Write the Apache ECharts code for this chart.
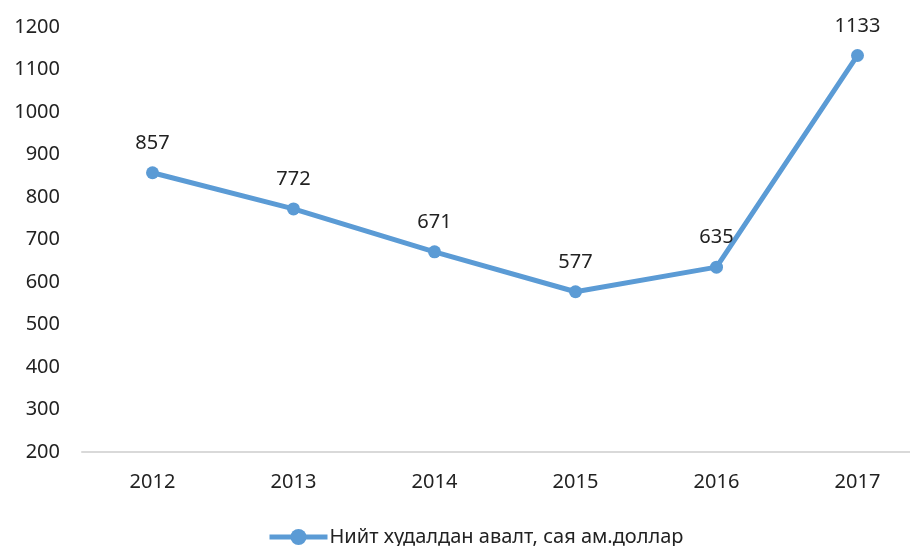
<!DOCTYPE html>
<html><head><meta charset="utf-8">
<script src="https://cdn.jsdelivr.net/npm/echarts@6/dist/echarts.min.js"></script>
<style>html,body{margin:0;padding:0;background:#fff}#c{width:910px;height:546px}</style>
</head><body><div id="c"></div>
<script>
const categories = ['2012','2013','2014','2015','2016','2017'];
const values = [857, 772, 671, 577, 635, 1133];
const seriesName = 'Нийт худалдан авалт, сая ам.доллар';
const yMin = 200, yMax = 1200, yStep = 100;

const chart = echarts.init(document.getElementById('c'));
const font = '"Noto Sans", sans-serif';
chart.setOption({
  animation: false,
  textStyle: { fontFamily: font },
  grid: { left: 82, top: 27, width: 846, height: 425, containLabel: false, outerBoundsMode: 'none' },
  xAxis: {
    type: 'category', data: categories, boundaryGap: true,
    axisLine: { lineStyle: { color: '#d9d9d9', width: 2 } },
    axisTick: { show: false },
    axisLabel: { color: '#222', fontSize: 20, margin: 20, fontFamily: font }
  },
  yAxis: {
    type: 'value', min: yMin, max: yMax, interval: yStep,
    axisLine: { show: false }, axisTick: { show: false },
    splitLine: { show: false },
    axisLabel: { color: '#222', fontSize: 20, margin: 22, fontFamily: font, formatter: v => String(v) }
  },
  legend: {
    top: 522, left: 262, itemWidth: 58, itemHeight: 20, itemGap: 4,
    textStyle: { color: '#222', fontSize: 20, fontFamily: font, padding: [0, 0, 0, -3] },
    lineStyle: { width: 5, color: '#5b9bd5' },
    data: [seriesName]
  },
  series: [{
    name: seriesName, type: 'line', data: values,
    symbol: 'circle', symbolSize: 13,
    lineStyle: { color: '#5b9bd5', width: 5 },
    itemStyle: { color: '#5b9bd5' },
    label: { show: true, position: 'top', distance: 13, color: '#222', fontSize: 20, fontFamily: font }
  }]
});
</script></body></html>
